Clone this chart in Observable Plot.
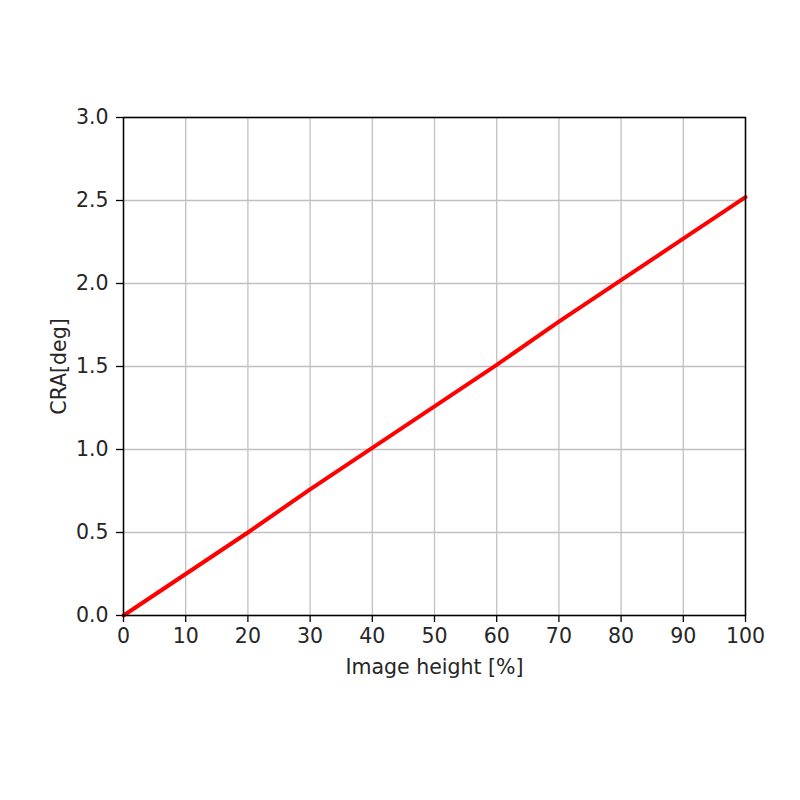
<!DOCTYPE html>
<html><head><meta charset="utf-8">
<script src="https://cdn.jsdelivr.net/npm/d3@7"></script>
<script src="https://cdn.jsdelivr.net/npm/@observablehq/plot@0.6"></script>
<style>body{margin:0;background:#fff}</style>
</head><body><div id="chart"></div>
<script>
const imageHeight = [0, 10, 20, 30, 40, 50, 60, 70, 80, 90, 100];
const cra = [0, 0.25, 0.50, 0.76, 1.01, 1.26, 1.51, 1.77, 2.02, 2.27, 2.52];
const xTicks = [0, 10, 20, 30, 40, 50, 60, 70, 80, 90, 100];
const yTicks = [0, 0.5, 1.0, 1.5, 2.0, 2.5, 3.0];
const data = imageHeight.map((x, i) => ({x, y: cra[i]}));

const chart = Plot.plot({
  width: 800, height: 800,
  marginLeft: 123, marginRight: 55, marginTop: 117, marginBottom: 185,
  style: {fontFamily: "DejaVu Sans", fontSize: "20.5px", color: "#262626", background: "#fff"},
  x: {domain: [0, 100], ticks: xTicks, label: null},
  y: {domain: [0, 3], ticks: yTicks, label: null},
  marks: [
    Plot.gridX(xTicks, {stroke: "#c0c0c0", strokeOpacity: 1, strokeWidth: 1.3}),
    Plot.gridY(yTicks, {stroke: "#c0c0c0", strokeOpacity: 1, strokeWidth: 1.3}),
    Plot.line(data, {x: "x", y: "y", stroke: "red", strokeWidth: 4}),
    Plot.frame({stroke: "#000", strokeWidth: 1.5}),
    Plot.axisX(xTicks, {tickSize: 7, tickPadding: 6, fontSize: 20.5, tickFormat: d => String(d), label: null, stroke: "#000", strokeWidth: 1.3}),
    Plot.axisY(yTicks, {tickSize: 7, tickPadding: 8, fontSize: 20.5, tickFormat: d => d.toFixed(1), label: null, stroke: "#000", strokeWidth: 1.3}),
    Plot.text(["Image height [%]"], {frameAnchor: "bottom", dy: 58, fontSize: 20.5, fill: "#262626"}),
    Plot.text(["CRA[deg]"], {frameAnchor: "left", textAnchor: "middle", dx: -64, rotate: -90, fontSize: 20.5, fill: "#262626"})
  ]
});
document.getElementById("chart").append(chart);
</script></body></html>
